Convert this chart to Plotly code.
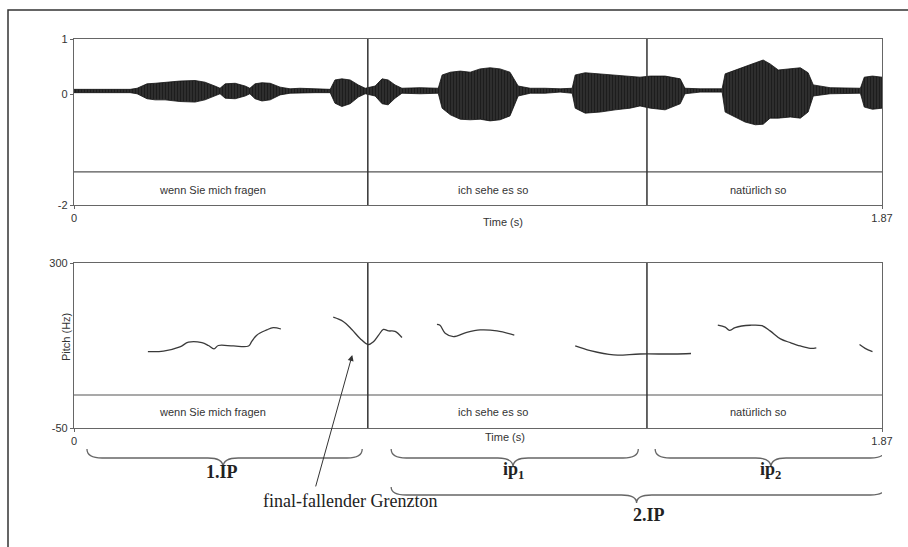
import plotly.graph_objects as go

# ---------------- data ----------------
# waveform envelope (time s, upper / lower amplitude)
wave_t = [0.000, 0.130, 0.146, 0.169, 0.188, 0.211, 0.245, 0.280, 0.303, 0.326, 0.338, 0.350,
          0.373, 0.396, 0.407, 0.419, 0.435, 0.454, 0.477, 0.500, 0.523, 0.558, 0.593, 0.604,
          0.620, 0.639, 0.658, 0.674, 0.697, 0.713, 0.727, 0.743, 0.759, 0.801, 0.843, 0.852,
          0.871, 0.894, 0.917, 0.940, 0.963, 0.986, 1.009, 1.028, 1.056, 1.090, 1.125, 1.153,
          1.160, 1.183, 1.218, 1.253, 1.287, 1.310, 1.334, 1.368, 1.403, 1.414, 1.449, 1.500,
          1.507, 1.530, 1.553, 1.577, 1.595, 1.611, 1.630, 1.658, 1.681, 1.699, 1.711, 1.750,
          1.797, 1.820, 1.829, 1.848, 1.870]
wave_top = [0.09, 0.09, 0.11, 0.19, 0.20, 0.22, 0.24, 0.25, 0.22, 0.15, 0.11, 0.19,
            0.20, 0.15, 0.11, 0.19, 0.21, 0.20, 0.13, 0.10, 0.11, 0.10, 0.09, 0.26,
            0.28, 0.26, 0.17, 0.11, 0.15, 0.28, 0.26, 0.17, 0.11, 0.12, 0.11, 0.35,
            0.40, 0.42, 0.40, 0.46, 0.48, 0.46, 0.40, 0.15, 0.11, 0.11, 0.10, 0.11,
            0.35, 0.39, 0.37, 0.35, 0.33, 0.31, 0.33, 0.33, 0.28, 0.11, 0.10, 0.10,
            0.37, 0.44, 0.51, 0.57, 0.62, 0.55, 0.44, 0.46, 0.48, 0.39, 0.17, 0.12,
            0.11, 0.11, 0.31, 0.33, 0.31]
wave_bot = [0.03, 0.03, 0.01, -0.08, -0.10, -0.10, -0.13, -0.14, -0.10, -0.03, 0.01, -0.07,
            -0.08, -0.03, 0.01, -0.08, -0.12, -0.10, -0.01, 0.02, 0.02, 0.03, 0.03, -0.16,
            -0.22, -0.17, -0.05, 0.01, -0.03, -0.17, -0.19, -0.07, 0.02, 0.01, 0.02, -0.25,
            -0.37, -0.45, -0.46, -0.45, -0.48, -0.46, -0.39, -0.03, 0.02, 0.02, 0.04, 0.02,
            -0.25, -0.34, -0.32, -0.28, -0.25, -0.21, -0.25, -0.28, -0.17, 0.01, 0.04, 0.04,
            -0.32, -0.41, -0.50, -0.55, -0.54, -0.43, -0.43, -0.41, -0.43, -0.32, -0.03, 0.01,
            0.02, 0.02, -0.23, -0.27, -0.25]

# pitch contour segments (time s, Hz)
pitch_segments = [
    ([0.171, 0.207, 0.245, 0.265, 0.296, 0.311, 0.324, 0.334, 0.369, 0.404, 0.411, 0.423, 0.446, 0.461, 0.479],
     [112, 113, 122, 132, 131, 125, 118, 125, 124, 124, 133, 147, 158, 163, 160]),
    ([0.600, 0.623, 0.643, 0.662, 0.681, 0.693, 0.705, 0.716, 0.728, 0.743, 0.759],
     [185, 176, 159, 140, 127, 133, 147, 159, 156, 155, 142]),
    ([0.840, 0.847, 0.859, 0.878, 0.909, 0.940, 0.979, 1.019],
     [170, 168, 151, 144, 153, 158, 156, 147]),
    ([1.160, 1.195, 1.249, 1.310, 1.388, 1.428],
     [124, 114, 105, 107, 107, 108]),
    ([1.490, 1.507, 1.517, 1.530, 1.565, 1.592, 1.611, 1.635, 1.658, 1.681, 1.704, 1.718],
     [168, 164, 157, 163, 168, 167, 156, 139, 131, 124, 119, 120]),
    ([1.818, 1.831, 1.848],
     [127, 119, 112]),
]

# text tier
boundaries = [0.680, 1.326]
tier_labels = ["wenn Sie mich fragen", "ich sehe es so", "natürlich so"]
tier_label_t = [0.320, 0.970, 1.583]
tier_line_wave = -1.4
tier_line_pitch = 20
tier_text_wave = -1.73
tier_text_pitch = -17
t_max = 1.87
wave_ticks = [-2, 0, 1]
pitch_ticks = [-50, 300]

# phrase braces: start, end, tip time, label, label time, row
braces = [
    (0.030, 0.667, 0.345, "<b>1.IP</b>", 0.343, 0),
    (0.734, 1.306, 1.016, "<b>ip<sub>1</sub></b>", 1.016, 0),
    (1.345, 1.878, 1.613, "<b>ip<sub>2</sub></b>", 1.611, 0),
    (0.734, 1.878, 1.302, "<b>2.IP</b>", 1.331, 1),
]
arrow_t, arrow_hz = 0.644, 105

# ---------------- figure ----------------
W, H = 908, 547
def py(p):
    return 1 - p / H

fig = go.Figure()

fig.add_trace(go.Scatter(
    x=wave_t + wave_t[::-1], y=wave_top + wave_bot[::-1],
    fill="toself", fillcolor="#111", mode="lines",
    fillpattern=dict(shape="|", size=3, solidity=0.6, fgcolor="#000", bgcolor="#3a3a3a"),
    line=dict(color="#111", width=0.8), xaxis="x", yaxis="y", hoverinfo="skip"))

for ts, hz in pitch_segments:
    fig.add_trace(go.Scatter(x=ts, y=hz, mode="lines", line=dict(color="#3a3a3a", width=1.3),
                             line_shape="spline", xaxis="x2", yaxis="y2", hoverinfo="skip"))

axis_font = dict(family="Liberation Sans, Arial", size=11, color="#333")
common_x = dict(domain=[74 / W, 882 / W], range=[0, t_max], tickvals=[0, t_max],
                ticktext=["0", "1.87"], showline=True, linecolor="#666", linewidth=1.3,
                mirror=True, ticks="outside", ticklen=3, tickcolor="#666", automargin=False,
                showgrid=False, zeroline=False, tickfont=axis_font, fixedrange=True)
common_y = dict(showline=True, linecolor="#666", linewidth=1.3, mirror=True, automargin=False,
                ticks="outside", ticklen=3, tickcolor="#666", showgrid=False,
                zeroline=False, tickfont=axis_font)
fig.update_layout(
    width=W, height=H, autosize=False, margin=dict(l=0, r=0, t=0, b=0, pad=0),
    paper_bgcolor="white", plot_bgcolor="white", showlegend=False,
    xaxis=dict(common_x, anchor="y"),
    yaxis=dict(common_y, domain=[py(205), py(39)], range=[-2, 1], tickvals=wave_ticks,
               ticktext=[str(v) for v in wave_ticks], anchor="x"),
    xaxis2=dict(common_x, anchor="y2"),
    yaxis2=dict(common_y, domain=[py(428), py(263)], range=[-50, 300], tickvals=pitch_ticks,
                ticktext=[str(v) for v in pitch_ticks], anchor="x2"),
)

shapes = []
# outer frame
shapes.append(dict(type="rect", xref="paper", yref="paper", x0=8 / W, x1=1.02,
                   y0=-0.02, y1=py(10), line=dict(color="#333", width=1.5)))
for xa, ya, yl in (("x", "y", tier_line_wave), ("x2", "y2", tier_line_pitch)):
    shapes.append(dict(type="line", xref=xa + " domain", yref=ya, x0=0, x1=1, y0=yl, y1=yl,
                       line=dict(color="#555", width=1.2)))
    for b in boundaries:
        shapes.append(dict(type="line", xref=xa, yref=ya + " domain", x0=b, x1=b, y0=0, y1=1,
                           line=dict(color="#333", width=1.5)))

# braces (x in time, y in pixels of the page)
rows = [(449, 458, 467), (487, 495, 503)]
r = 0.035
for x0, x1, xc, label, lt, row in braces:
    yt, ym, yp = (py(v) for v in rows[row])
    path = (f"M {x0},{yt} Q {x0},{ym} {x0 + r},{ym} L {xc - r},{ym} Q {xc},{ym} {xc},{yp} "
            f"Q {xc},{ym} {xc + r},{ym} L {x1 - r},{ym} Q {x1},{ym} {x1},{yt}")
    shapes.append(dict(type="path", xref="x2", yref="paper", path=path,
                       line=dict(color="#666", width=1.3)))
fig.update_layout(shapes=shapes)

ann = []
for lab, t in zip(tier_labels, tier_label_t):
    ann.append(dict(x=t, y=tier_text_wave, xref="x", yref="y", text=lab, showarrow=False,
                    font=axis_font))
    ann.append(dict(x=t, y=tier_text_pitch, xref="x2", yref="y2", text=lab, showarrow=False,
                    font=axis_font))
ann.append(dict(x=503 / W, y=py(222), xref="paper", yref="paper", text="Time (s)",
                showarrow=False, font=axis_font))
ann.append(dict(x=505 / W, y=py(445), xref="paper", yref="paper", text="Time (s)",
                showarrow=False, font=axis_font))
ann.append(dict(x=58 / W, y=py(337), xref="paper", yref="paper", text="Pitch (Hz)",
                showarrow=False, textangle=-90, font=axis_font))

serif = dict(family="Liberation Serif, Times New Roman", color="#222")
label_y = [484, 484, 484, 527]
for (x0, x1, xc, label, lt, row), ly in zip(braces, label_y):
    ann.append(dict(x=lt, y=py(ly), xref="x2", yref="paper", text=label, showarrow=False,
                    font=dict(serif, size=18)))
ann.append(dict(x=350 / W, y=py(513), xref="paper", yref="paper",
                text="final-fallender Grenzton", showarrow=False, font=dict(serif, size=18)))
ann.append(dict(x=arrow_t, y=arrow_hz, xref="x2", yref="y2", text="", showarrow=True,
                arrowhead=2, arrowsize=1.2, arrowwidth=1, arrowcolor="#333",
                axref="pixel", ayref="pixel", ax=-37, ay=133))
fig.update_layout(annotations=ann)

fig.write_html("out.html", config={"displayModeBar": False},
               post_script="document.body.style.margin='0';document.body.style.overflow='hidden';")
